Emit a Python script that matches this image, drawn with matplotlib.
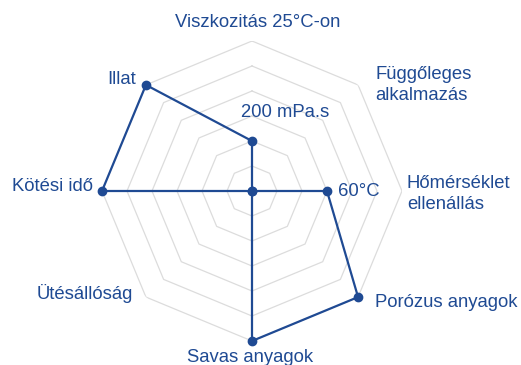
"""
Radar chart of adhesive properties on an octagonal grid.
"""
import matplotlib
matplotlib.use("Agg")
import matplotlib.pyplot as plt
import numpy as np

plt.rcParams["font.family"] = ["Liberation Sans", "DejaVu Sans"]

categories = [
    "Viszkozitás 25°C-on",
    "Függőleges\nalkalmazás",
    "Hőmérséklet\nellenállás",
    "Porózus anyagok",
    "Savas anyagok",
    "Ütésállóság",
    "Kötési idő",
    "Illat",
]
values = [2, 0, 3, 6, 6, 0, 6, 6]
levels = [1, 2, 3, 4, 5, 6]
value_notes = {0: "200 mPa.s", 2: "60°C"}

BLUE = "#1f4a93"
GRID = "#dcdcdc"

# label placement: (dx, dy) in pixels from the outer vertex, horizontal alignment
label_offsets = [
    ((6, 19), "center"),
    ((17, 0), "left"),
    ((5, -3), "left"),
    ((17, -5), "left"),
    ((-2, -17), "center"),
    ((-13, 4), "right"),
    ((-9, 5), "right"),
    ((-10, 5), "right"),
]
note_offsets = {0: ((33, 29), "center"), 2: ((11, 0), "left")}

n = len(categories)
theta = np.arange(n) * 2 * np.pi / n

fig = plt.figure(figsize=(5.21, 3.65), dpi=100)
ax = fig.add_axes([102 / 521, 24 / 365, 300 / 521, 300 / 365], projection="polar")
ax.set_theta_zero_location("N")
ax.set_theta_direction(-1)
ax.set_ylim(0, levels[-1])
ax.grid(False)
ax.spines["polar"].set_visible(False)
ax.set_xticks([])
ax.set_yticks([])
ax.patch.set_alpha(0)

# octagonal rings
ring_theta = np.append(theta, theta[0])
for lv in levels:
    ax.plot(ring_theta, np.full_like(ring_theta, lv), color=GRID, lw=0.9, zorder=1)

closed_vals = values + values[:1]
ax.plot(ring_theta, closed_vals, color=BLUE, lw=1.6, zorder=3, clip_on=False)
ax.plot(theta, values, "o", color=BLUE, ms=6, zorder=4, clip_on=False)

for i, (label, ((dx, dy), ha)) in enumerate(zip(categories, label_offsets)):
    ax.annotate(label, xy=(theta[i], levels[-1]), xytext=(dx * 0.72, dy * 0.72),
                textcoords="offset points", ha=ha, va="center",
                fontsize=13.3, color=BLUE, linespacing=1.25, annotation_clip=False)

for i, note in value_notes.items():
    (dx, dy), ha = note_offsets[i]
    ax.annotate(note, xy=(theta[i], values[i]), xytext=(dx * 0.72, dy * 0.72),
                textcoords="offset points", ha=ha, va="center",
                fontsize=13.3, color=BLUE, annotation_clip=False)

fig.savefig("out.png", dpi=100)
